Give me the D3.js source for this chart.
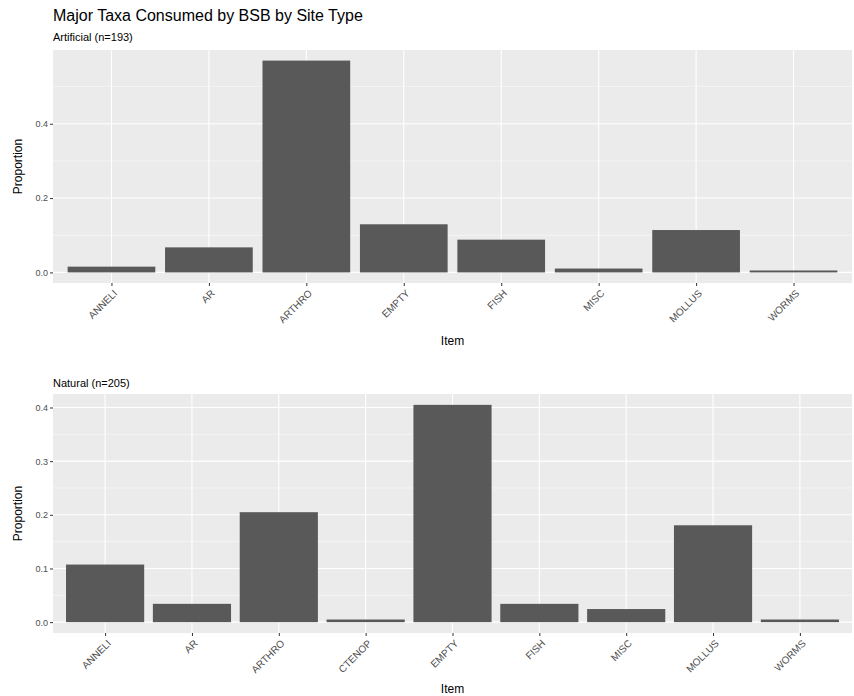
<!DOCTYPE html>
<html>
<head>
<meta charset="utf-8">
<script src="https://cdn.jsdelivr.net/npm/d3@7"></script>
<style>
  html, body { margin: 0; padding: 0; background: #ffffff; }
  svg { display: block; font-family: "Liberation Sans", Arial, Helvetica, sans-serif; }
</style>
</head>
<body>
<svg id="chart" width="854" height="696"></svg>
<script>
// Proportion of stomachs by major prey taxon, per site type
const chartTitle = "Major Taxa Consumed by BSB by Site Type";

const artificialLabel = "Artificial (n=193)";
const artificialItems = ["ANNELI", "AR", "ARTHRO", "EMPTY", "FISH", "MISC", "MOLLUS", "WORMS"];
const artificialValues = [0.0155, 0.0674, 0.5699, 0.1295, 0.0881, 0.0104, 0.1140, 0.0052];
const artificialTicks = [0, 0.2, 0.4];

const naturalLabel = "Natural (n=205)";
const naturalItems = ["ANNELI", "AR", "ARTHRO", "CTENOP", "EMPTY", "FISH", "MISC", "MOLLUS", "WORMS"];
const naturalValues = [0.1073, 0.0341, 0.2049, 0.0049, 0.4049, 0.0341, 0.0244, 0.1805, 0.0049];
const naturalTicks = [0, 0.1, 0.2, 0.3, 0.4];

const svg = d3.select("#chart");

svg.append("text")
  .attr("x", 53).attr("y", 21)
  .attr("font-size", 16).attr("fill", "#000")
  .text(chartTitle);

function drawPanel(cfg) {
  const { items, values, ticks, label, labelY, top, bottom, left, right } = cfg;
  const g = svg.append("g");

  g.append("text")
    .attr("x", left).attr("y", labelY)
    .attr("font-size", 11).attr("fill", "#000")
    .text(label);

  const maxV = d3.max(values);
  const x = d3.scalePoint().domain(items).range([left, right]).padding(0.6);
  const y = d3.scaleLinear().domain([-0.05 * maxV, 1.05 * maxV]).range([bottom, top]);
  const barW = x.step() * 0.9;

  // panel background
  g.append("rect")
    .attr("x", left).attr("y", top)
    .attr("width", right - left).attr("height", bottom - top)
    .attr("fill", "#EBEBEB");

  // minor grid lines halfway between the labelled ticks
  const tstep = ticks[1] - ticks[0];
  const minor = [];
  for (let v = ticks[0] + tstep / 2; v <= 1.05 * maxV; v += tstep) minor.push(v);
  g.selectAll(".minor").data(minor).enter().append("line")
    .attr("x1", left).attr("x2", right)
    .attr("y1", d => y(d)).attr("y2", d => y(d))
    .attr("stroke", "#FAFAFA").attr("stroke-width", 0.6);

  // major grid lines
  g.selectAll(".hmajor").data(ticks).enter().append("line")
    .attr("x1", left).attr("x2", right)
    .attr("y1", d => y(d)).attr("y2", d => y(d))
    .attr("stroke", "#FFFFFF").attr("stroke-width", 1.1);
  g.selectAll(".vmajor").data(items).enter().append("line")
    .attr("x1", d => x(d)).attr("x2", d => x(d))
    .attr("y1", top).attr("y2", bottom)
    .attr("stroke", "#FFFFFF").attr("stroke-width", 1.1);

  // bars
  g.selectAll(".bar").data(items).enter().append("rect")
    .attr("x", d => x(d) - barW / 2)
    .attr("width", barW)
    .attr("y", (d, i) => y(values[i]))
    .attr("height", (d, i) => y(0) - y(values[i]))
    .attr("fill", "#595959");

  // y axis
  const yAxis = d3.axisLeft(y).tickValues(ticks).tickFormat(d3.format(".1f")).tickSize(3).tickPadding(2);
  const ya = g.append("g").attr("transform", `translate(${left},0)`).call(yAxis);
  ya.select(".domain").remove();
  ya.selectAll(".tick line").attr("stroke", "#333333");
  ya.selectAll(".tick text").attr("fill", "#4D4D4D").attr("font-size", 9)
    .attr("font-family", "Liberation Sans, Arial, sans-serif");

  // x axis with slanted labels
  const xAxis = d3.axisBottom(x).tickSize(3).tickPadding(2);
  const xa = g.append("g").attr("transform", `translate(0,${bottom})`).call(xAxis);
  xa.select(".domain").remove();
  xa.selectAll(".tick line").attr("stroke", "#333333");
  xa.selectAll(".tick text")
    .attr("fill", "#4D4D4D").attr("font-size", 10)
    .attr("font-family", "Liberation Sans, Arial, sans-serif")
    .attr("text-anchor", "end")
    .attr("dy", null)
    .attr("transform", "translate(6,11) rotate(-45)")
    .attr("y", 0).attr("x", 0);

  // axis titles
  g.append("text")
    .attr("transform", `translate(22,${(top + bottom) / 2}) rotate(-90)`)
    .attr("text-anchor", "middle")
    .attr("font-size", 12).attr("fill", "#000")
    .text("Proportion");
  g.append("text")
    .attr("x", (left + right) / 2).attr("y", cfg.itemY)
    .attr("text-anchor", "middle")
    .attr("font-size", 12).attr("fill", "#000")
    .text("Item");
}

drawPanel({
  items: artificialItems, values: artificialValues, ticks: artificialTicks,
  label: artificialLabel, labelY: 41,
  top: 50, bottom: 283, left: 53, right: 852, itemY: 345
});

drawPanel({
  items: naturalItems, values: naturalValues, ticks: naturalTicks,
  label: naturalLabel, labelY: 387,
  top: 394, bottom: 633, left: 53, right: 852, itemY: 693
});
</script>
</body>
</html>
